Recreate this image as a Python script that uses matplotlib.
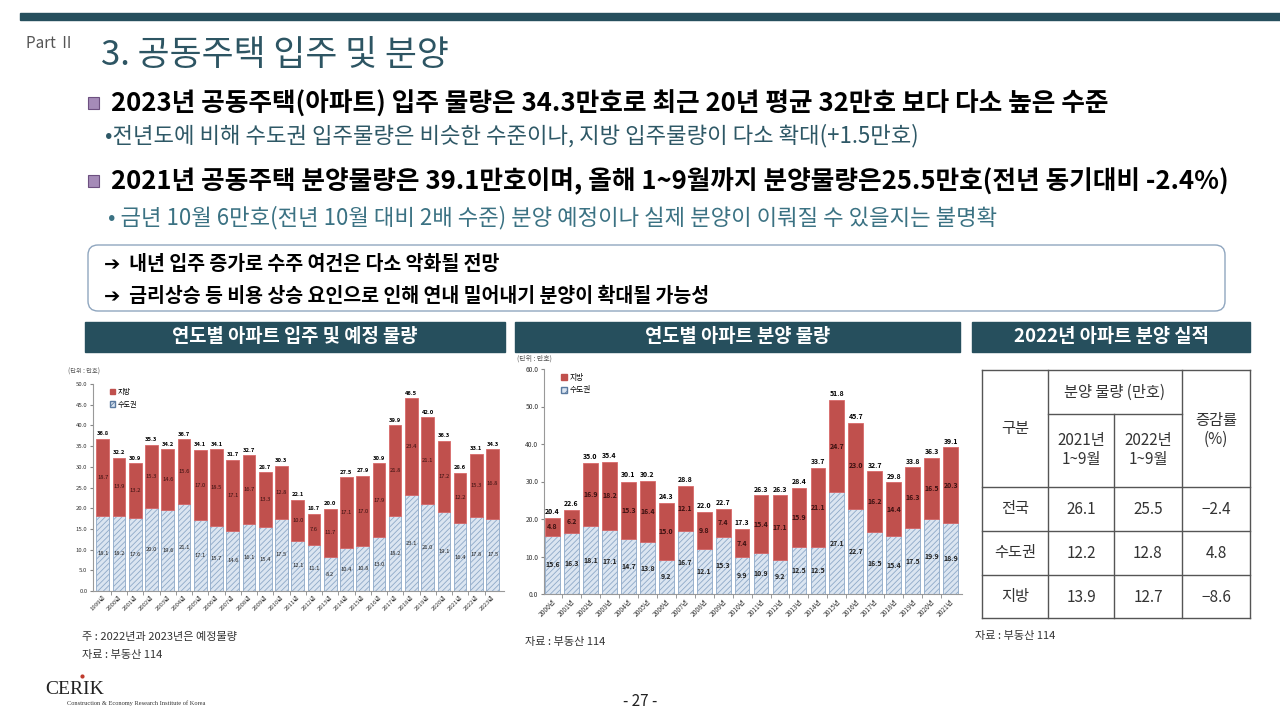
import matplotlib
matplotlib.use("Agg")
import matplotlib.pyplot as plt
import numpy as np
from matplotlib.patches import Rectangle, FancyBboxPatch

plt.rcParams['font.family'] = ['Noto Sans CJK KR', 'DejaVu Sans']
plt.rcParams['hatch.linewidth'] = 0.6

# ---- data: move-in volume (1999-2023), unit 만호 ----
movein_years = [f"{y}년" for y in range(1999, 2024)]
movein_capital = [18.1, 18.2, 17.6, 20.0, 19.6, 21.1, 17.1, 15.7, 14.6, 16.1, 15.4, 17.5, 12.1,
                  11.1, 8.2, 10.4, 10.8, 13.0, 18.2, 23.1, 21.0, 19.1, 16.4, 17.8, 17.5]
movein_local = [18.7, 13.9, 13.2, 15.3, 14.6, 15.6, 17.0, 18.5, 17.1, 16.7, 13.3, 12.8, 10.0,
                7.6, 11.7, 17.1, 17.0, 17.9, 21.8, 23.4, 21.1, 17.2, 12.2, 15.3, 16.8]
movein_total = [36.8, 32.2, 30.9, 35.3, 34.2, 36.7, 34.1, 34.1, 31.7, 32.7, 28.7, 30.3, 22.1,
                18.7, 20.0, 27.5, 27.9, 30.9, 39.9, 46.5, 42.0, 36.3, 28.6, 33.1, 34.3]

# ---- data: pre-sale volume (2000-2021) ----
sale_years = [f"{y}년" for y in range(2000, 2022)]
sale_capital = [15.6, 16.3, 18.1, 17.1, 14.7, 13.8, 9.2, 16.7, 12.1, 15.3, 9.9, 10.9, 9.2,
                12.5, 12.5, 27.1, 22.7, 16.5, 15.4, 17.5, 19.9, 18.9]
sale_local = [4.8, 6.2, 16.9, 18.2, 15.3, 16.4, 15.0, 12.1, 9.8, 7.4, 7.4, 15.4, 17.1,
              15.9, 21.1, 24.7, 23.0, 16.2, 14.4, 16.3, 16.5, 20.3]
sale_total = [20.4, 22.6, 35.0, 35.4, 30.1, 30.2, 24.3, 28.8, 22.0, 22.7, 17.3, 26.3, 26.3,
              28.4, 33.7, 51.8, 45.7, 32.7, 29.8, 33.8, 36.3, 39.1]

# ---- data: 2022 pre-sale table ----
table_rows = ["전국", "수도권", "지방"]
table_2021 = ["26.1", "12.2", "13.9"]
table_2022 = ["25.5", "12.8", "12.7"]
table_change = ["−2.4", "4.8", "−8.6"]

DARK = '#264f5d'
RED = '#c0504d'
BLUE_FACE = '#dbe5f1'
BLUE_EDGE = '#8ea9c8'
W, H = 1280, 720

fig = plt.figure(figsize=(12.8, 7.2), dpi=100)
bg = fig.add_axes([0, 0, 1, 1])
bg.set_xlim(0, W)
bg.set_ylim(H, 0)
bg.axis('off')


def px_axes(x0, y0, x1, y1):
    return fig.add_axes([x0 / W, 1 - y1 / H, (x1 - x0) / W, (y1 - y0) / H])


# === header ===
bg.add_patch(Rectangle((20, 13), 1260, 7, color=DARK))
bg.text(26, 43, "Part Ⅱ", fontsize=11, color='#555555', va='center', ha='left')
bg.text(101, 56, "3. 공동주택 입주 및 분양", fontsize=25, color='#2d5563', va='center', ha='left')

bullets = [
    (104, "2023년 공동주택(아파트) 입주 물량은 34.3만호로 최근 20년 평균 32만호 보다 다소 높은 수준",
     136, "•전년도에 비해 수도권 입주물량은 비슷한 수준이나, 지방 입주물량이 다소 확대(+1.5만호)", '#2e5866', 105),
    (182, "2021년 공동주택 분양물량은 39.1만호이며, 올해 1~9월까지 분양물량은25.5만호(전년 동기대비 -2.4%)",
     218, "• 금년 10월 6만호(전년 10월 대비 2배 수준) 분양 예정이나 실제 분양이 이뤄질 수 있을지는 불명확", '#3b7283', 108),
]
for y1, t1, y2, t2, c2, x2 in bullets:
    bg.add_patch(Rectangle((88, y1 - 7), 11, 12, facecolor='#a58bb8', edgecolor='#6d5080', lw=0.8))
    bg.text(111, y1, t1, fontsize=18.5, fontweight='bold', color='black', va='center', ha='left')
    bg.text(x2, y2, t2, fontsize=16, color=c2, va='center', ha='left')

# rounded box with conclusions
bg.add_patch(FancyBboxPatch((88, 245), 1137, 66, boxstyle="round,pad=0,rounding_size=10",
                            facecolor='white', edgecolor='#8fa6bf', lw=1))
for y, t in [(265, "➔  내년 입주 증가로 수주 여건은 다소 악화될 전망"),
             (296, "➔  금리상승 등 비용 상승 요인으로 인해 연내 밀어내기 분양이 확대될 가능성")]:
    bg.text(104, y, t, fontsize=14, fontweight='bold', color='black', va='center', ha='left')

# panel headers
for x0, x1, t in [(85, 505, "연도별 아파트 입주 및 예정 물량"),
                  (515, 960, "연도별 아파트 분양 물량"),
                  (972, 1250, "2022년 아파트 분양 실적")]:
    bg.add_patch(Rectangle((x0, 322), x1 - x0, 30, color=DARK))
    bg.text((x0 + x1) / 2, 337, t, fontsize=13.5, fontweight='bold', color='white',
            va='center', ha='center')


def stacked(ax, years, cap, loc, tot, ymax, step, lab_fs, bold, tick_fs):
    x = np.arange(len(years))
    wid = 0.78
    ax.bar(x, cap, wid, color=BLUE_FACE, edgecolor=BLUE_EDGE, hatch='//////', lw=0.6, zorder=2)
    ax.bar(x, loc, wid, bottom=cap, color=RED, edgecolor='#d86a6a', lw=0.6, zorder=2)
    fw = 'bold' if bold else 'normal'
    for i in range(len(years)):
        ax.text(x[i], cap[i] / 2, f"{cap[i]:.1f}", ha='center', va='center',
                fontsize=lab_fs, color='#222222', fontweight=fw, zorder=3)
        ax.text(x[i], cap[i] + loc[i] / 2, f"{loc[i]:.1f}", ha='center', va='center',
                fontsize=lab_fs, color='#3a1010', fontweight=fw, zorder=3)
        ax.text(x[i], tot[i] + ymax * 0.012, f"{tot[i]:.1f}", ha='center', va='bottom',
                fontsize=lab_fs, color='black', fontweight='bold', zorder=3)
    ax.set_ylim(0, ymax)
    ax.set_yticks(np.arange(0, ymax + 0.01, step))
    ax.set_yticklabels([f"{v:.1f}" for v in np.arange(0, ymax + 0.01, step)], fontsize=tick_fs,
                       color='#333333')
    ax.set_xticks(x)
    ax.set_xticklabels(years, rotation=45, ha='right', rotation_mode='anchor',
                       fontsize=tick_fs, color='#333333')
    ax.set_xticks(x[:-1] + 0.5, minor=True)
    ax.tick_params(axis='x', which='major', length=0, pad=3)
    ax.tick_params(axis='x', which='minor', length=3, color='#888888')
    ax.tick_params(axis='y', length=2, color='#888888', pad=2)
    for s in ['top', 'right']:
        ax.spines[s].set_visible(False)
    for s in ['left', 'bottom']:
        ax.spines[s].set_color('#999999')
        ax.spines[s].set_linewidth(0.8)
    handles = [Rectangle((0, 0), 1, 1, facecolor=RED, edgecolor=RED),
               Rectangle((0, 0), 1, 1, facecolor=BLUE_FACE, edgecolor='#5a7aa0', hatch='////')]
    ax.legend(handles, ["지방", "수도권"], loc='upper left', bbox_to_anchor=(0.03, 1.0),
              frameon=False, fontsize=tick_fs + 0.8, handlelength=0.8, handleheight=0.8,
              handletextpad=0.3, labelspacing=0.6, borderaxespad=0.2)
    return x


# === left chart: move-in ===
ax1 = px_axes(93, 384, 504, 591)
stacked(ax1, movein_years, movein_capital, movein_local, movein_total, 50, 5, 4.2, False, 4.3)
ax1.set_xlim(-0.6, 24.7)
bg.text(68, 372, "(단위 : 만호)", fontsize=4.5, color='#555555', va='center', ha='left')

# === middle chart: pre-sale ===
ax2 = px_axes(544, 369, 962, 594)
stacked(ax2, sale_years, sale_capital, sale_local, sale_total, 60, 10, 5.0, True, 4.8)
ax2.set_xlim(-0.45, 21.6)
bg.text(517, 359, "(단위 : 만호)", fontsize=5, color='#555555', va='center', ha='left')

# === right table ===
lc = '#555555'
for y in [370, 487, 531, 575, 618]:
    bg.plot([982, 1250], [y, y], color=lc, lw=1)
bg.plot([1048, 1182], [414, 414], color=lc, lw=1)
for xv in [982, 1048, 1182, 1250]:
    bg.plot([xv, xv], [370, 618], color=lc, lw=1)
bg.plot([1114, 1114], [414, 618], color=lc, lw=1)
tc = '#333333'
tfs = 11
bg.text(1015, 428, "구분", fontsize=tfs, color=tc, ha='center', va='center')
bg.text(1115, 392, "분양 물량 (만호)", fontsize=tfs, color=tc, ha='center', va='center')
bg.text(1081, 450, "2021년\n1~9월", fontsize=tfs, color=tc, ha='center', va='center', linespacing=1.2)
bg.text(1148, 450, "2022년\n1~9월", fontsize=tfs, color=tc, ha='center', va='center', linespacing=1.2)
bg.text(1216, 430, "증감률\n(%)", fontsize=tfs, color=tc, ha='center', va='center', linespacing=1.2)
for i, ry in enumerate([509, 553, 597]):
    bg.text(1015, ry, table_rows[i], fontsize=tfs, color=tc, ha='center', va='center')
    bg.text(1081, ry, table_2021[i], fontsize=tfs, color=tc, ha='center', va='center')
    bg.text(1148, ry, table_2022[i], fontsize=tfs, color=tc, ha='center', va='center')
    bg.text(1216, ry, table_change[i], fontsize=tfs, color=tc, ha='center', va='center')

# === notes / footer ===
bg.text(82, 637, "주 : 2022년과 2023년은 예정물량", fontsize=8, color='#333333', va='center')
bg.text(82, 655, "자료 : 부동산 114", fontsize=8, color='#333333', va='center')
bg.text(525, 642, "자료 : 부동산 114", fontsize=8, color='#333333', va='center')
bg.text(975, 636, "자료 : 부동산 114", fontsize=8, color='#333333', va='center')

bg.text(45, 690, "CERIK", fontsize=14, family='Liberation Serif', color='#222222', va='center')
bg.plot([82], [676], marker='o', ms=2, color='#c0392b')
bg.text(67, 703, "Construction & Economy Research Institute of Korea", fontsize=4.6,
        family='Liberation Serif', color='#333333', va='center')
bg.text(640, 702, "- 27 -", fontsize=11, color='#222222', ha='center', va='center')

fig.savefig("out.png", dpi=100)
